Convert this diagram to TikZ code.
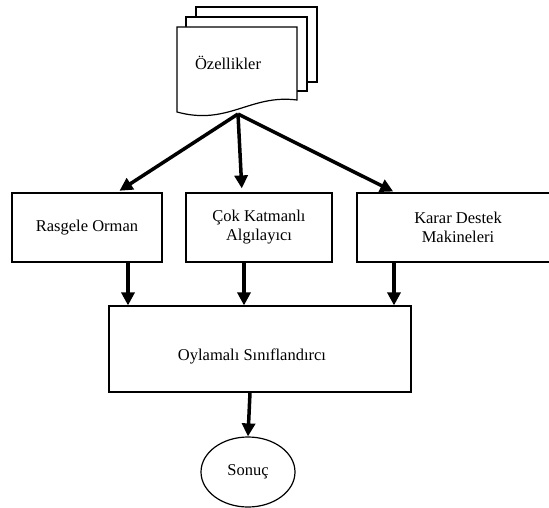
\documentclass[tikz,border=0pt]{standalone}
\usepackage{fontspec}
\setmainfont{Liberation Serif}
\usetikzlibrary{arrows.meta,shapes.geometric}
\begin{document}
\begin{tikzpicture}[x=1pt,y=-1pt,
  every node/.style={font=\fontsize{16.5}{19}\selectfont,align=center},
  box/.style={draw,line width=1.2pt,inner sep=0pt},
  page/.style={draw,fill=white,line width=1.2pt},
  arr/.style={line width=3.5pt,-{Triangle[length=13pt,width=13pt]}}]
\useasboundingbox (0,0) rectangle (549,508);

% feature pages
\draw[page] (196,7) rectangle (317,82);
\draw[page] (186,17) rectangle (307,91);
\draw[page] (177,27) -- (297,27) -- (297,100)
  .. controls (250,94) and (228,126) .. (177,112) -- cycle;
\node (feat) at (228,63) {Özellikler};
\coordinate (src) at (238,114);

\node[box,minimum width=150,minimum height=69] (rf) at (87,227.5) {Rasgele Orman};
\node[box,minimum width=146,minimum height=69] (mlp) at (259,227.5) {Çok Katmanlı\\Algılayıcı};
\node[box,minimum width=202,minimum height=69] (svm) at (458,227.5) {Karar Destek\\Makineleri};

\node[box,minimum width=302,minimum height=86] (vote) at (260,349) {};
\node (votetxt) at (252,356) {Oylamalı Sınıflandırcı};
\node[box,ellipse,minimum width=94,minimum height=70] (res) at (248,472) {Sonuç};

\draw[arr,shorten >=3pt] (src) -- ([xshift=30pt]rf.north);
\draw[arr,shorten >=4pt] (src) -- ([xshift=-17pt]mlp.north);
\draw[arr,shorten >=2pt] (src) -- ([xshift=-63pt]svm.north);

\foreach \n/\dx in {rf/41,mlp/-15,svm/-64}
  \draw[arr] ([xshift=\dx pt]\n.south) -- ([xshift=\dx pt]\n.south |- vote.north);

\draw[arr] ([xshift=-10pt]vote.south) -- (res.north);

\end{tikzpicture}
\end{document}
